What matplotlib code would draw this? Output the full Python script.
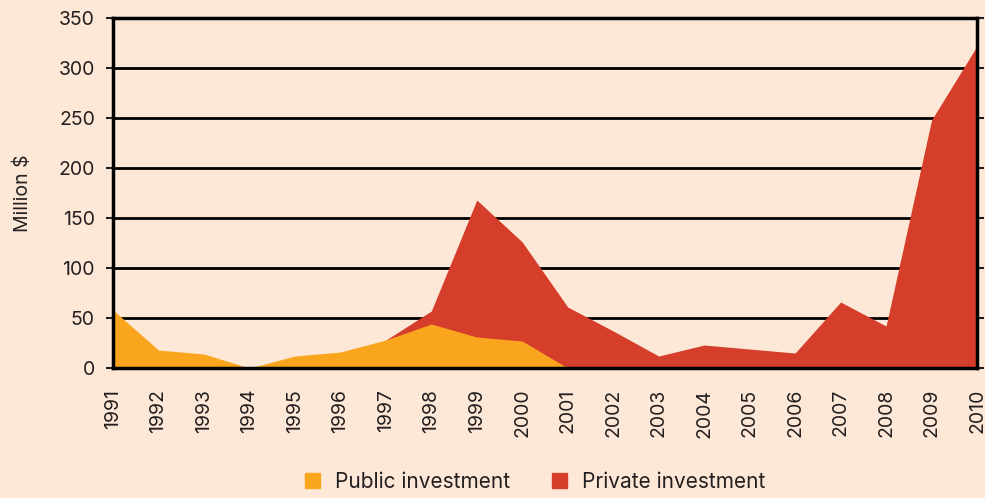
import numpy as np
import matplotlib.pyplot as plt
from matplotlib.patches import Patch

# data (million $)
years = list(range(1991, 2011))
public = [58, 18, 14, 0, 12, 16, 28, 44, 31, 27, 0, 0, 0, 0, 0, 0, 0, 0, 0, 0]
private = [0, 0, 0, 0, 0, 0, 28, 57, 168, 126, 61, 37, 12, 23, 19, 15, 66, 42, 248, 322]

bg = '#fde8d7'
orange = '#f9a61e'
red = '#d63e2c'
ink = '#231f20'

plt.rcParams['font.family'] = ['Inter', 'DejaVu Sans']

fig = plt.figure(figsize=(9.85, 4.98), dpi=100, facecolor=bg)
ax = fig.add_axes([0.1147, 0.261, 0.8772, 0.7029])
ax.set_facecolor(bg)

# gridlines behind the areas
for v in range(50, 350, 50):
    ax.axhline(v, color='black', lw=2, zorder=1)

ax.fill_between(years, private, color=red, lw=0, zorder=2)
ax.fill_between(years, public, color=orange, lw=0, zorder=3)

ax.set_xlim(1991, 2010)
ax.set_ylim(0, 350)
ax.set_xticks(years)
ax.set_xticklabels([str(y) for y in years], rotation=90, fontsize=14, color=ink)
ax.set_yticks(range(0, 351, 50))
ax.tick_params(axis='y', labelsize=14, colors=ink, length=5, width=1.5,
               right=True, direction='out', pad=8)
ax.tick_params(axis='x', length=0, pad=15)
for s in ax.spines.values():
    s.set_color('black')
    s.set_linewidth(2.5)
    s.set_zorder(5)
ax.set_ylabel('Million $', fontsize=14, color=ink, labelpad=19)

handles = [Patch(color=orange, label='Public investment'),
           Patch(color=red, label='Private investment')]
fig.legend(handles=handles, loc='lower center', bbox_to_anchor=(0.543, -0.025),
           ncol=2, frameon=False, fontsize=15, handlelength=0.75, handleheight=0.75,
           columnspacing=2.0, handletextpad=0.7, labelcolor=ink)

fig.savefig('out.png', dpi=100, facecolor=bg)
